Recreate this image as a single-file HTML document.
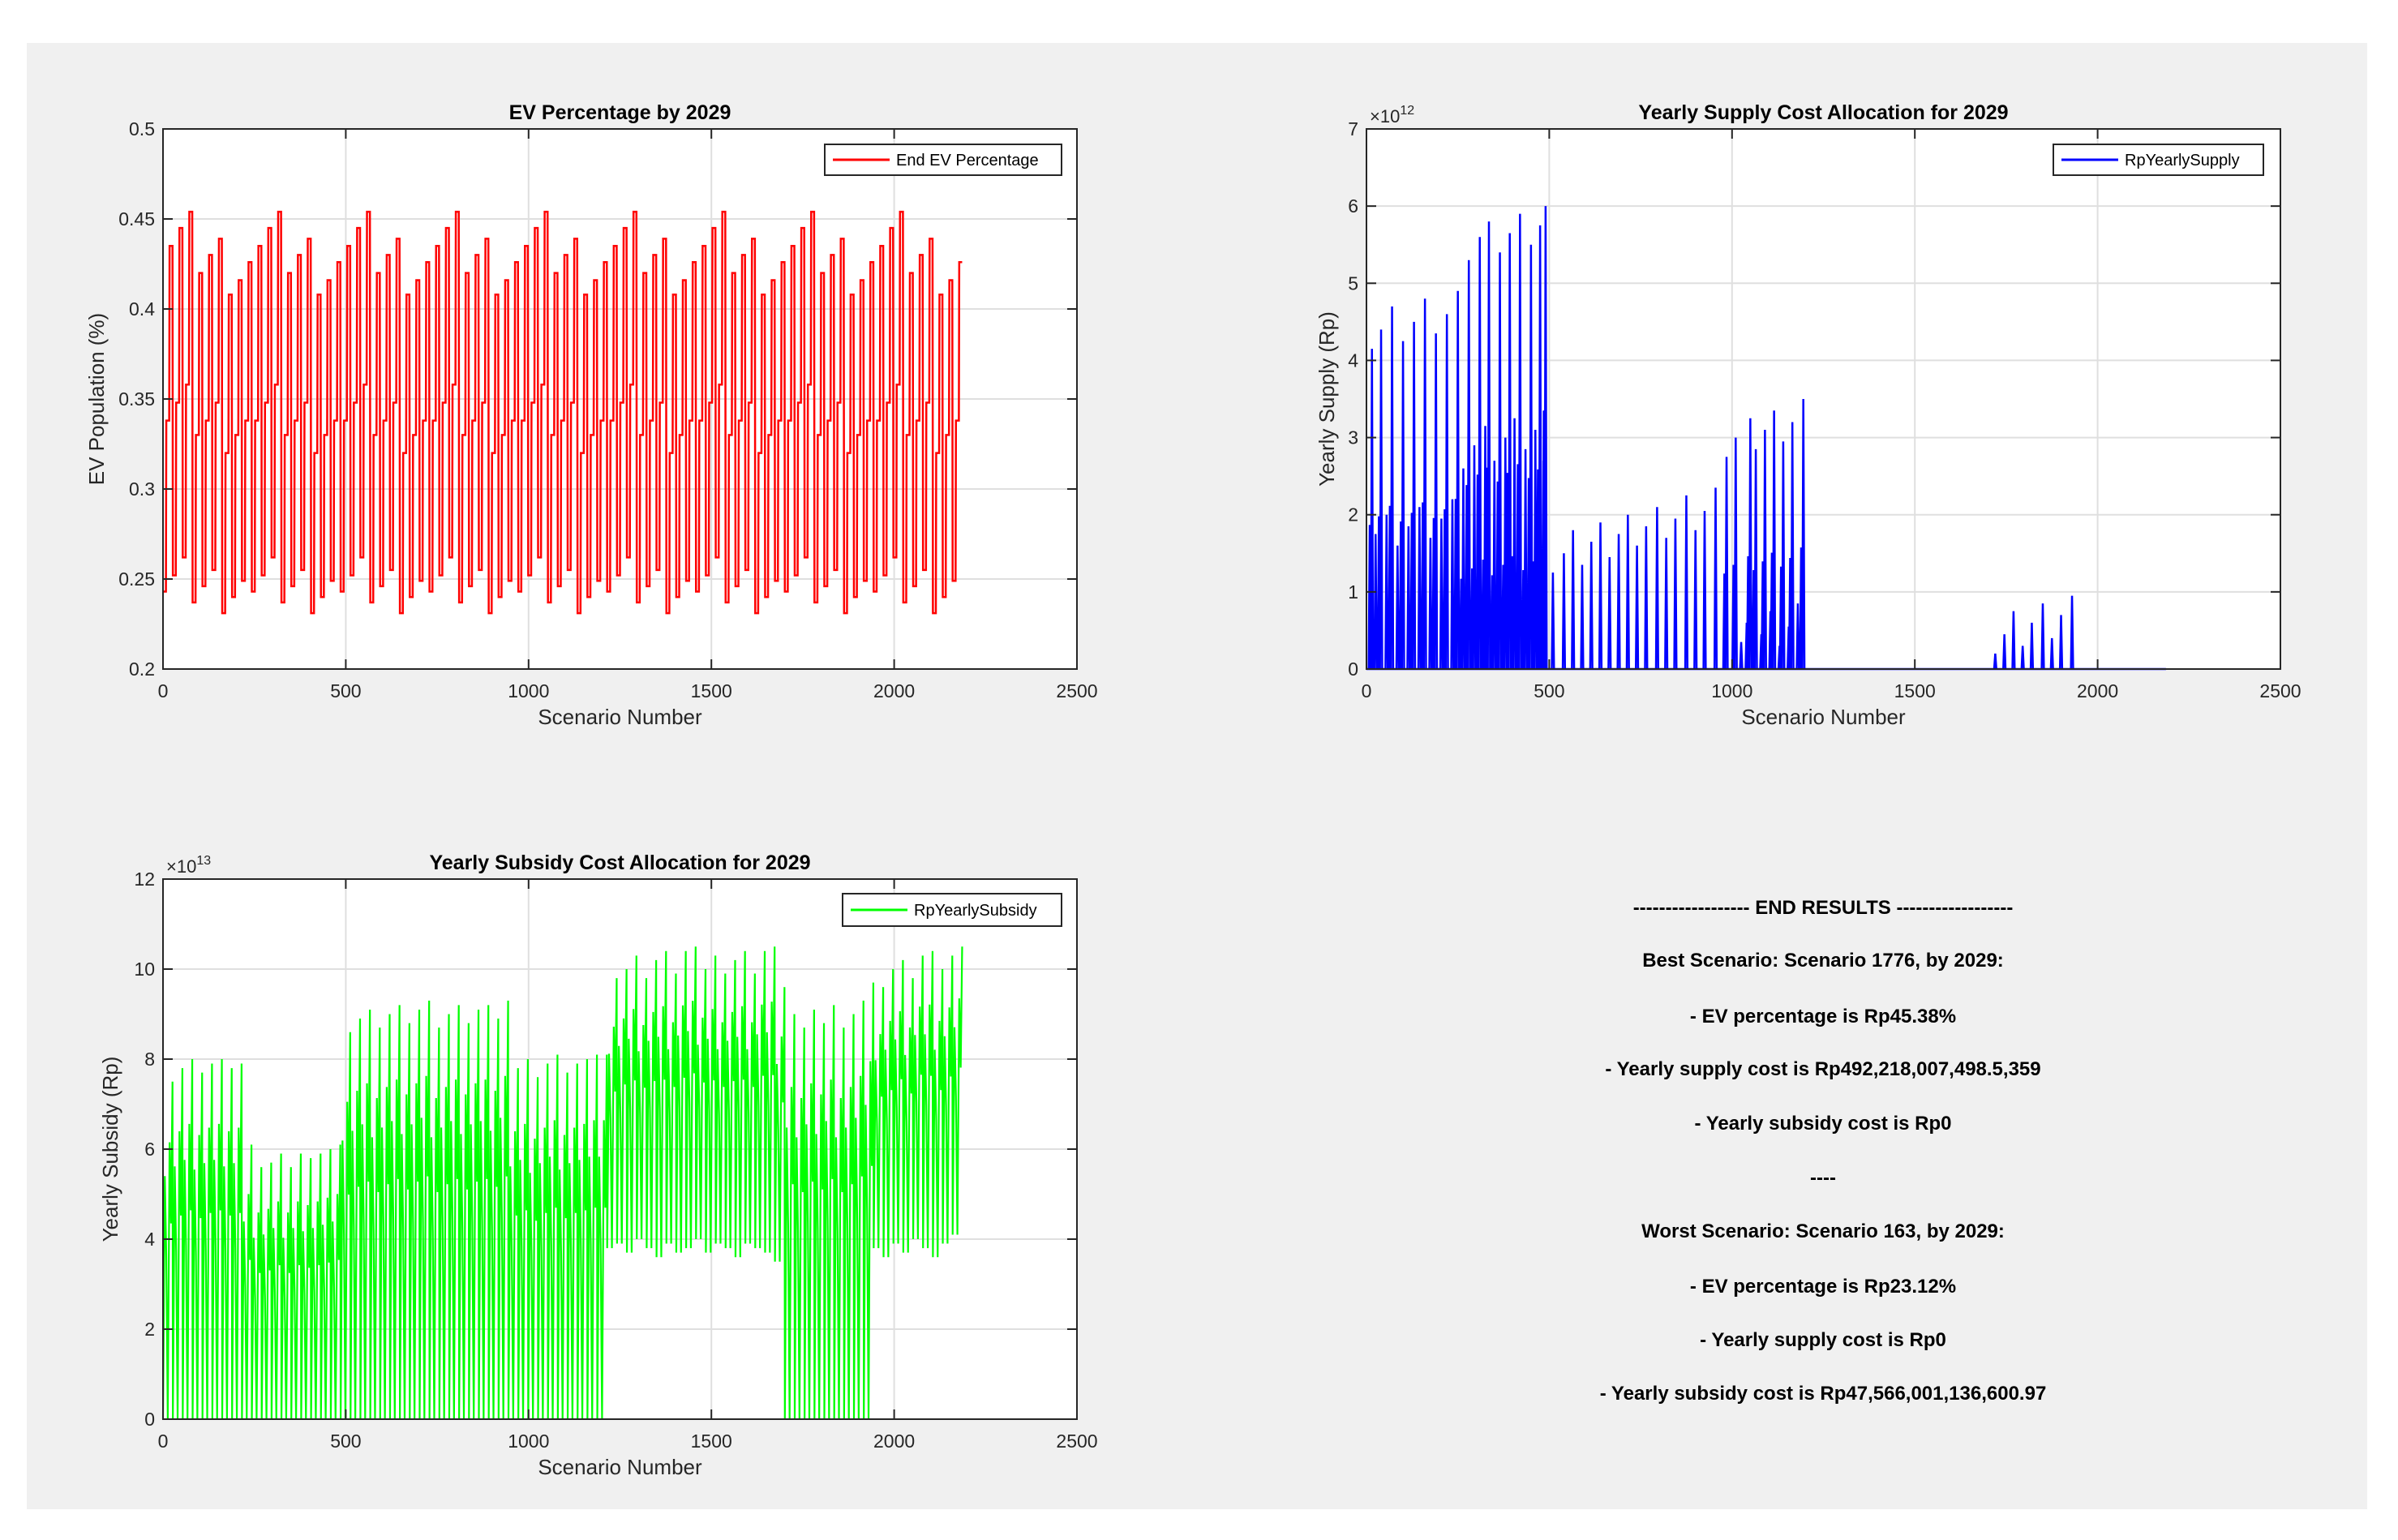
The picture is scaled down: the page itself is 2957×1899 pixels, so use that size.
<!DOCTYPE html>
<html><head><meta charset="utf-8"><style>
html,body{margin:0;padding:0;background:#fff;}
body{width:2957px;height:1899px;position:relative;overflow:hidden;font-family:"Liberation Sans",Arial,sans-serif;}
#bg{position:absolute;left:33px;top:53px;width:2886px;height:1808px;background:#f0f0f0;}
svg{position:absolute;left:0;top:0;}
</style></head><body>
<div id="bg"></div>
<svg id="fig" width="2957" height="1899"></svg>
<script>
// ---------- DATA ----------
const xTicks=[0,500,1000,1500,2000,2500];
const evTicks=[0.2,0.25,0.3,0.35,0.4,0.45,0.5];
const supTicks=[0,1,2,3,4,5,6,7];
const subTicks=[0,2,4,6,8,10,12];
// EV per 27-scenario cycle (81 cycles)
const evLow=[0.243,0.252,0.262,0.237,0.246,0.255,0.231,0.240,0.249,0.243,0.252,0.262,0.237,0.246,0.255,0.231,0.240,0.249,0.243,0.252,0.262,0.237,0.246,0.255,0.231,0.240,0.249,0.243,0.252,0.262,0.237,0.246,0.255,0.231,0.240,0.249,0.243,0.252,0.262,0.237,0.246,0.255,0.231,0.240,0.249,0.243,0.252,0.262,0.237,0.246,0.255,0.231,0.240,0.249,0.243,0.252,0.262,0.237,0.246,0.255,0.231,0.240,0.249,0.243,0.252,0.262,0.237,0.246,0.255,0.231,0.240,0.249,0.243,0.252,0.262,0.237,0.246,0.255,0.231,0.240,0.249];
const evMid=[0.338,0.348,0.358,0.330,0.338,0.348,0.320,0.330,0.338,0.338,0.348,0.358,0.330,0.338,0.348,0.320,0.330,0.338,0.338,0.348,0.358,0.330,0.338,0.348,0.320,0.330,0.338,0.338,0.348,0.358,0.330,0.338,0.348,0.320,0.330,0.338,0.338,0.348,0.358,0.330,0.338,0.348,0.320,0.330,0.338,0.338,0.348,0.358,0.330,0.338,0.348,0.320,0.330,0.338,0.338,0.348,0.358,0.330,0.338,0.348,0.320,0.330,0.338,0.338,0.348,0.358,0.330,0.338,0.348,0.320,0.330,0.338,0.338,0.348,0.358,0.330,0.338,0.348,0.320,0.330,0.338];
const evHigh=[0.435,0.445,0.454,0.420,0.430,0.439,0.408,0.416,0.426,0.435,0.445,0.454,0.420,0.430,0.439,0.408,0.416,0.426,0.435,0.445,0.454,0.420,0.430,0.439,0.408,0.416,0.426,0.435,0.445,0.454,0.420,0.430,0.439,0.408,0.416,0.426,0.435,0.445,0.454,0.420,0.430,0.439,0.408,0.416,0.426,0.435,0.445,0.454,0.420,0.430,0.439,0.408,0.416,0.426,0.435,0.445,0.454,0.420,0.430,0.439,0.408,0.416,0.426,0.435,0.445,0.454,0.420,0.430,0.439,0.408,0.416,0.426,0.435,0.445,0.454,0.420,0.430,0.439,0.408,0.416,0.426];
// Supply spikes (scenario, value x1e12)
const supX=[10,15,25,40,55,70,85,100,115,130,145,160,175,190,205,220,235,250,265,280,295,310,325,335,350,365,380,392,405,420,435,450,462,475,485,490,510,540,565,590,615,640,665,690,715,740,765,795,820,845,875,900,925,955,985,1010,1025,1040,1050,1065,1080,1090,1105,1115,1130,1140,1155,1165,1180,1195,1720,1745,1770,1795,1820,1850,1875,1900,1930];
const supY=[1.45,4.15,1.75,4.4,2.0,4.7,1.6,4.25,1.85,4.5,2.1,4.8,1.7,4.35,1.95,4.6,2.2,4.9,2.6,5.3,2.9,5.6,3.15,5.8,2.7,5.4,3.0,5.65,3.25,5.9,2.85,5.5,3.1,5.75,3.35,6.0,1.25,1.5,1.8,1.35,1.65,1.9,1.45,1.75,2.0,1.6,1.85,2.1,1.7,1.95,2.25,1.8,2.05,2.35,2.75,3.0,0.35,0.6,3.25,2.85,0.45,3.1,0.75,3.35,0.3,2.95,0.55,3.2,0.85,3.5,0.2,0.45,0.75,0.3,0.6,0.85,0.4,0.7,0.95];
const supEnd=2187;
// Subsidy per cycle (x1e13)
const subPeak=[7.5,7.8,8.0,7.7,7.9,8.0,7.8,7.9,6.1,5.6,5.7,5.9,5.6,5.9,5.8,5.9,6.0,6.1,8.6,8.9,9.1,8.7,9.0,9.2,8.8,9.1,9.3,8.7,9.0,9.2,8.8,9.1,9.2,8.9,9.3,7.8,8.0,7.6,7.9,8.1,7.7,7.9,8.0,8.1,8.1,9.8,10.0,10.3,9.8,10.2,10.4,9.9,10.4,10.5,10.0,10.3,9.9,10.2,10.4,9.9,10.4,10.5,9.6,9.0,8.7,9.1,8.8,9.2,8.7,9.0,9.3,9.7,9.6,10.0,10.2,9.8,10.3,10.4,10.0,10.3,10.5];
const subFloor=[0,0,0,0,0,0,0,0,0,0,0,0,0,0,0,0,0,0,0,0,0,0,0,0,0,0,0,0,0,0,0,0,0,0,0,0,0,0,0,0,0,0,0,0,0,3.8,3.9,3.7,4.0,3.8,3.6,3.9,3.7,3.8,4.0,3.7,3.9,3.8,3.6,3.9,3.8,3.7,3.5,0,0,0,0,0,0,0,0,0,3.8,3.6,3.9,3.7,4.0,3.8,3.6,3.9,4.1];
const cycleLen=27;

// ---------- DRAW ----------
const NS='http://www.w3.org/2000/svg';
const svg=document.getElementById('fig');
function mk(tag,attrs,parent){const e=document.createElementNS(NS,tag);for(const k in attrs)e.setAttribute(k,attrs[k]);(parent||svg).appendChild(e);return e;}
function txt(s,attrs,parent){const e=mk('text',attrs,parent);e.textContent=s;return e;}

function axes(cfg){
  const g=mk('g',{});
  
  
  const L=cfg.l,R=cfg.r,T=cfg.t,B=cfg.b;
  mk('rect',{x:L,y:T,width:R-L,height:B-T,fill:'#fff'},g);
  const sx=v=>L+(v-0)/(2500)*(R-L);
  const sy=v=>B-(v-cfg.ymin)/(cfg.ymax-cfg.ymin)*(B-T);
  const grid=mk('g',{},g);
  
  
  xTicks.forEach(v=>{mk('line',{x1:sx(v),x2:sx(v),y1:T,y2:B,stroke:'#dfdfdf','stroke-width':2},grid);});
  cfg.yt.forEach(v=>{mk('line',{x1:L,x2:R,y1:sy(v),y2:sy(v),stroke:'#dfdfdf','stroke-width':2},grid);});
  return {g,sx,sy,L,R,T,B};
}
function frame(a,cfg){
  const g=a.g;
  mk('rect',{x:a.L,y:a.T,width:a.R-a.L,height:a.B-a.T,fill:'none',stroke:'#262626','stroke-width':2},g);
  const xl=mk('g',{},g);
  
  
  xTicks.forEach(v=>{
    mk('line',{x1:a.sx(v),x2:a.sx(v),y1:a.B,y2:a.B-12,stroke:'#262626','stroke-width':2},xl);
    mk('line',{x1:a.sx(v),x2:a.sx(v),y1:a.T,y2:a.T+12,stroke:'#262626','stroke-width':2},xl);
    txt(String(v),{x:a.sx(v),y:a.B+35,'font-size':23,'text-anchor':'middle',fill:'#262626'},xl);
  });
  const yl=mk('g',{},g);
  
  
  cfg.yt.forEach(v=>{
    mk('line',{x1:a.L,x2:a.L+12,y1:a.sy(v),y2:a.sy(v),stroke:'#262626','stroke-width':2},yl);
    mk('line',{x1:a.R,x2:a.R-12,y1:a.sy(v),y2:a.sy(v),stroke:'#262626','stroke-width':2},yl);
    txt(cfg.fmt(v),{x:a.L-10,y:a.sy(v)+8,'font-size':23,'text-anchor':'end',fill:'#262626'},yl);
  });
  const t=txt(cfg.title,{x:(a.L+a.R)/2,y:a.T-12,'font-size':25,'font-weight':'bold','text-anchor':'middle',fill:'#000'},g);
  
  
  const xt=txt('Scenario Number',{x:(a.L+a.R)/2,y:a.B+68,'font-size':26,'text-anchor':'middle',fill:'#262626'},g);
  
  
  const yc=(a.T+a.B)/2;
  const yt=txt(cfg.ylabel,{x:cfg.ylx,y:yc,'font-size':26,'text-anchor':'middle',fill:'#262626',transform:`rotate(-90 ${cfg.ylx} ${yc})`},g);
  
  
  if(cfg.exp){
    const ex=txt('',{x:a.L+4,y:a.T-8,'font-size':22,fill:'#262626'},g);
    
    
    ex.innerHTML='×10<tspan dy="-10" font-size="16">'+cfg.exp+'</tspan>';
  }
  const lg=mk('g',{},g);
  
  
  mk('rect',{x:cfg.lg[0],y:cfg.lg[1],width:cfg.lg[2],height:cfg.lg[3],fill:'#fff',stroke:'#262626','stroke-width':2},lg);
  const ly=cfg.lg[1]+cfg.lg[3]/2;
  mk('line',{x1:cfg.lg[0]+10,x2:cfg.lg[0]+80,y1:ly,y2:ly,stroke:cfg.color,'stroke-width':3},lg);
  txt(cfg.legend,{x:cfg.lg[0]+88,y:ly+7,'font-size':20,fill:'#000'},lg);
}

// Chart 1
const c1={name:'ev-percentage-chart',l:201,r:1328,t:159,b:825,ymin:0.2,ymax:0.5,yt:evTicks,fmt:v=>String(+v.toFixed(2)),title:'EV Percentage by 2029',ylabel:'EV Population (%)',ylx:128,lg:[1017,178,292,38],legend:'End EV Percentage',color:'#ff0000'};
const a1=axes(c1);
let d='';
evLow.forEach((lo,i)=>{
  const x0=i*cycleLen;
  d+=(i===0?'M':'L')+a1.sx(x0)+','+a1.sy(lo)+' L'+a1.sx(x0+8)+','+a1.sy(lo)+' L'+a1.sx(x0+9)+','+a1.sy(evMid[i])+' L'+a1.sx(x0+17)+','+a1.sy(evMid[i])+' L'+a1.sx(x0+18)+','+a1.sy(evHigh[i])+' L'+a1.sx(x0+26)+','+a1.sy(evHigh[i])+' ';
});
const p1=mk('path',{d,fill:'none',stroke:'#ff0000','stroke-width':2.5},a1.g);


frame(a1,c1);

// Chart 2
const c2={name:'yearly-supply-chart',l:1685,r:2812,t:159,b:825,ymin:0,ymax:7,yt:supTicks,fmt:v=>String(v),title:'Yearly Supply Cost Allocation for 2029',ylabel:'Yearly Supply (Rp)',ylx:1645,exp:'12',lg:[2532,178,259,38],legend:'RpYearlySupply',color:'#0000ff'};
const a2=axes(c2);
d='M'+a2.sx(0)+','+a2.sy(0)+' L'+a2.sx(supEnd)+','+a2.sy(0)+' ';
supX.forEach((x,i)=>{
  d+='M'+a2.sx(x-3)+','+a2.sy(0)+' L'+a2.sx(x)+','+a2.sy(supY[i])+' L'+a2.sx(x+3)+','+a2.sy(0)+' ';
  if(supY[i]>2.4) d+='M'+a2.sx(x-9)+','+a2.sy(0)+' L'+a2.sx(x-6)+','+a2.sy(supY[i]*0.45)+' L'+a2.sx(x-4)+','+a2.sy(0)+' ';
});
const p2=mk('path',{d,fill:'none',stroke:'#0000ff','stroke-width':2.5},a2.g);


frame(a2,c2);

// Chart 3
const c3={name:'yearly-subsidy-chart',l:201,r:1328,t:1084,b:1750,ymin:0,ymax:12,yt:subTicks,fmt:v=>String(v),title:'Yearly Subsidy Cost Allocation for 2029',ylabel:'Yearly Subsidy (Rp)',ylx:145,exp:'13',lg:[1039,1102,270,40],legend:'RpYearlySubsidy',color:'#00ff00'};
const a3=axes(c3);
const shape=[[0,'f'],[5,0.72],[9,0.48],[13,'f'],[18,0.82],[22,0.58],[26,1.0]];
d='';
subPeak.forEach((pk,i)=>{
  const x0=i*cycleLen, fl=subFloor[i];
  shape.forEach((s,j)=>{
    const v=s[1]==='f'?fl:fl+(pk-fl)*s[1];
    d+=((i===0&&j===0)?'M':'L')+a3.sx(x0+s[0])+','+a3.sy(v)+' ';
  });
});
const p3=mk('path',{d,fill:'none',stroke:'#00ff00','stroke-width':2.2},a3.g);


frame(a3,c3);

// Results text
const lines=['------------------ END RESULTS ------------------','Best Scenario: Scenario 1776, by 2029:','- EV percentage is Rp45.38%','- Yearly supply cost is Rp492,218,007,498.5,359','- Yearly subsidy cost is Rp0','----','Worst Scenario: Scenario 163, by 2029:','- EV percentage is Rp23.12%','- Yearly supply cost is Rp0','- Yearly subsidy cost is Rp47,566,001,136,600.97'];
const lineY=[1119,1184,1253,1318,1385,1452,1518,1586,1652,1718];
const rg=mk('g',{});


lines.forEach((s,i)=>{
  const t=txt(s,{x:2248,y:lineY[i]+8,'font-size':24,'font-weight':'bold','text-anchor':'middle',fill:'#000'},rg);
  
  
});
</script>
</body></html>
